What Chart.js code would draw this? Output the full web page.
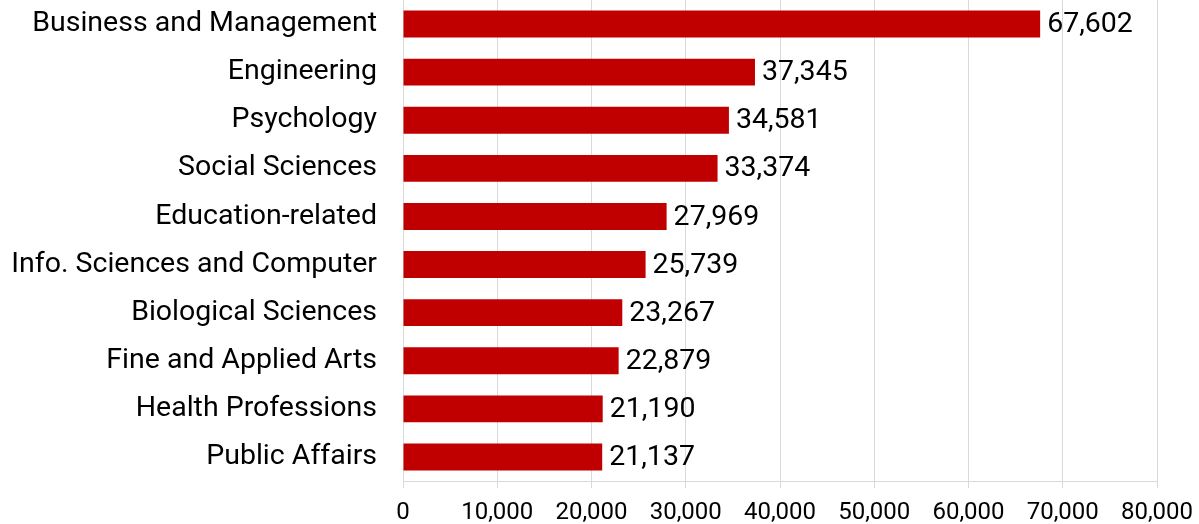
<!DOCTYPE html>
<html>
<head>
<meta charset="utf-8">
<script src="https://cdn.jsdelivr.net/npm/chart.js@4"></script>
<style>
  html, body { margin: 0; padding: 0; background: #fff; }
  #wrap { width: 1199px; height: 524px; position: relative; }
</style>
</head>
<body>
<div id="wrap"><canvas id="chart"></canvas></div>
<script>
// data
const categories = [
    'Business and Management',
    'Engineering',
    'Psychology',
    'Social Sciences',
    'Education-related',
    'Info. Sciences and Computer',
    'Biological Sciences',
    'Fine and Applied Arts',
    'Health Professions',
    'Public Affairs'
];
const enrolments = [67602, 37345, 34581, 33374, 27969, 25739, 23267, 22879, 21190, 21137];
const xTicks = [0, 10000, 20000, 30000, 40000, 50000, 60000, 70000, 80000];

const FONT = "Roboto, 'Noto Sans', sans-serif";
const fmt = n => n.toLocaleString('en-US');

// draws the value just past the end of each bar
const valueLabels = {
    id: 'valueLabels',
    afterDatasetsDraw(chart) {
        const ctx = chart.ctx;
        const meta = chart.getDatasetMeta(0);
        ctx.save();
        ctx.font = '28.5px ' + FONT;
        ctx.fillStyle = '#000';
        ctx.textAlign = 'left';
        ctx.textBaseline = 'middle';
        meta.data.forEach((bar, i) => {
            ctx.fillText(fmt(enrolments[i]), bar.x + 7, bar.y + 1);
        });
        ctx.restore();
    }
};

new Chart(document.getElementById('chart').getContext('2d'), {
    type: 'bar',
    data: {
        labels: categories,
        datasets: [{
            data: enrolments,
            backgroundColor: '#C00000',
            borderWidth: 0,
            categoryPercentage: 1,
            barPercentage: 0.56
        }]
    },
    options: {
        indexAxis: 'y',
        responsive: true,
        maintainAspectRatio: false,
        animation: false,
        layout: { padding: { top: 0, right: 42, bottom: 0, left: 0 } },
        plugins: {
            legend: { display: false },
            tooltip: { enabled: false }
        },
        scales: {
            x: {
                min: 0,
                max: 80000,
                afterBuildTicks: scale => { scale.ticks = xTicks.map(v => ({ value: v })); },
                grid: { color: '#d9d9d9', lineWidth: 1, tickLength: 7 },
                border: { color: '#d9d9d9' },
                ticks: {
                    color: '#000',
                    font: { family: FONT, size: 24 },
                    padding: 11,
                    maxRotation: 0,
                    callback: v => fmt(v)
                },
                afterFit: scale => {
                    scale.height = 43;
                    scale.paddingLeft = 0;
                    scale.paddingRight = 0;
                }
            },
            y: {
                grid: { display: false, drawTicks: false },
                border: { display: true, color: '#d9d9d9' },
                ticks: {
                    color: '#000',
                    font: { family: FONT, size: 28.5 },
                    padding: 26
                },
                afterFit: scale => {
                    scale.width = 403;
                    // tick padding would otherwise be added above and below the plot
                    scale.paddingTop = 0;
                    scale.paddingBottom = 0;
                }
            }
        }
    },
    plugins: [valueLabels]
});
</script>
</body>
</html>
